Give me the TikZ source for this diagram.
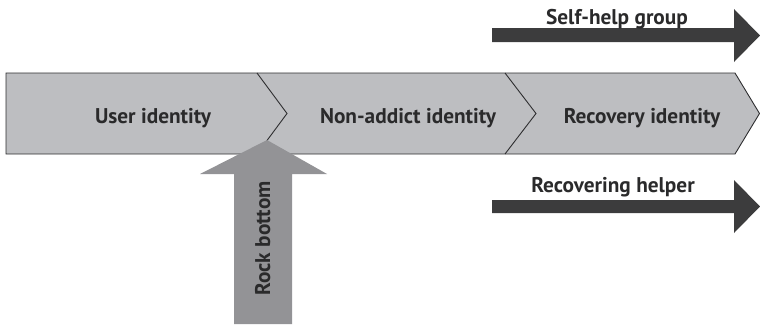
\documentclass[tikz,border=0pt]{standalone}
\usepackage{fontspec}
\setmainfont{PT Sans}
\begin{document}
\begin{tikzpicture}[x=1pt,y=-1pt,
  bandtext/.style={font=\bfseries\fontsize{21.3}{24}\selectfont, text=textgray, anchor=base, inner sep=0pt},
  bandline/.style={draw=linegray, line width=0.9pt, line join=miter},
  darkarrow/.style={fill=arrowdark, draw=none},
  rockarrow/.style={fill=rockgray, draw=none}]
\definecolor{bandgray}{HTML}{BDBEC1}
\definecolor{linegray}{HTML}{2E2E30}
\definecolor{rockgray}{HTML}{939396}
\definecolor{arrowdark}{HTML}{3C3C3D}
\definecolor{textgray}{HTML}{2A2A2B}
\useasboundingbox (0,0) rectangle (760,324);
% band
\coordinate (bl) at (6,73);
\coordinate (bt) at (735,73);
\coordinate (tip) at (759.5,113.5);
\coordinate (bb) at (735,154);
\coordinate (blb) at (6,154);
\draw[bandline, fill=bandgray] (bl) -- (bt) -- (tip) -- (bb) -- (blb) -- cycle;
\coordinate (c1t) at (257,73);
\coordinate (c1m) at (287,113.5);
\coordinate (c1b) at (257,154);
\coordinate (c2t) at (505,73);
\coordinate (c2m) at (536,113.5);
\coordinate (c2b) at (505,154);
\draw[bandline] (c1t) -- (c1m) -- (c1b);
\draw[bandline] (c2t) -- (c2m) -- (c2b);
\node[bandtext] (user) at (153,123) {User identity};
\node[bandtext] (nonaddict) at (408,123) {Non-addict identity};
\node[bandtext] (recovery) at (642,123) {Recovery identity};
% rock bottom arrow
\fill[rockarrow] (267,140) -- (327,174) -- (292,174) -- (292,324) -- (234,324) -- (234,174) -- (200,174) -- cycle;
\node[bandtext, anchor=base, rotate=90] (rock) at (270,238.5) {Rock bottom};
% self-help arrow
\fill[darkarrow] (492,28) -- (734,28) -- (734,9) -- (760,35.5) -- (734,62) -- (734,42) -- (492,42) -- cycle;
\node[bandtext] (selfhelp) at (617,24) {Self-help group};
% recovering helper arrow
\fill[darkarrow] (492,200) -- (734,200) -- (734,180) -- (760,206.5) -- (734,233) -- (734,213) -- (492,213) -- cycle;
\node[bandtext] (helper) at (613,192) {Recovering helper};
\end{tikzpicture}
\end{document}
